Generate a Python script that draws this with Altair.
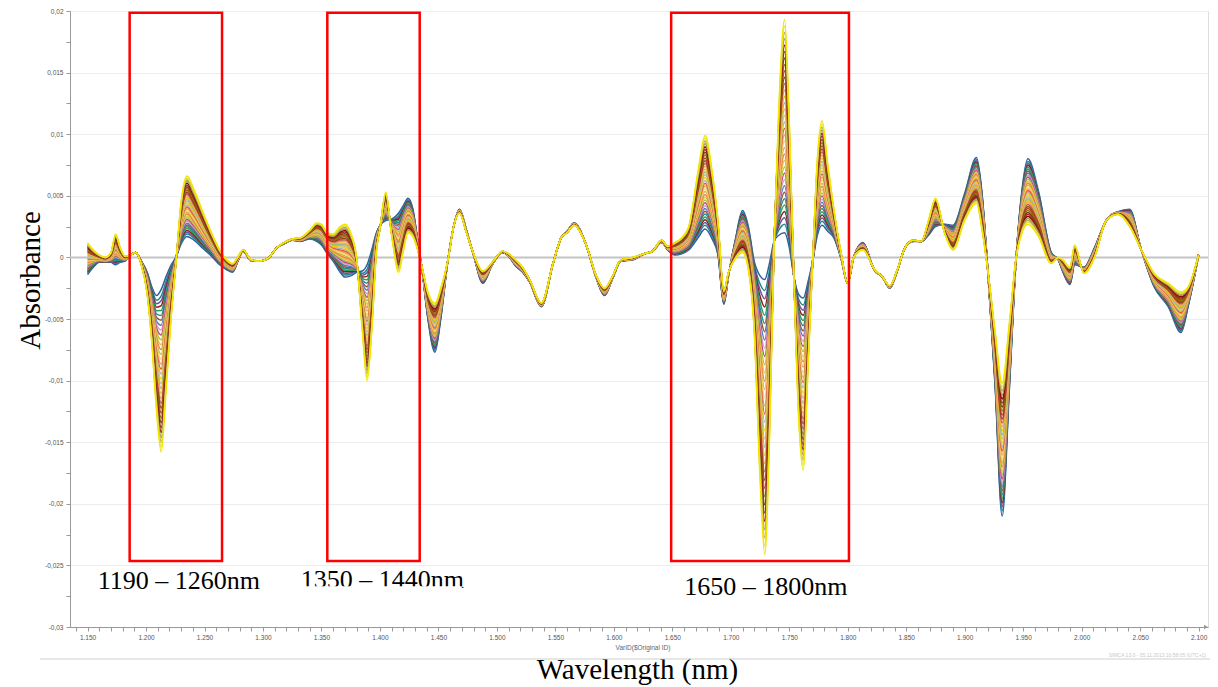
import altair as alt
import pandas as pd

# ---------------- data ----------------
wavelength = [
    1150, 1155, 1160, 1165, 1170, 1174, 1178, 1182, 1187, 1191,
    1196, 1201, 1205, 1209, 1213, 1217, 1221, 1226, 1230, 1235,
    1241, 1249, 1256, 1263, 1269, 1274, 1279, 1283, 1290, 1297,
    1304, 1312, 1318, 1325, 1332, 1340, 1346, 1350, 1355, 1360,
    1366, 1370, 1375, 1380, 1385, 1389, 1393, 1397, 1400, 1405,
    1410, 1416, 1420, 1424, 1428, 1432, 1436, 1441, 1447, 1452,
    1458, 1463, 1468, 1474, 1480, 1488, 1496, 1505, 1510, 1516,
    1522, 1528, 1538, 1548, 1555, 1560, 1566, 1576, 1585, 1592,
    1599, 1606, 1616, 1626, 1633, 1641, 1646, 1652, 1658, 1664,
    1672, 1678, 1684, 1689, 1694, 1698, 1704, 1710, 1715, 1720,
    1725, 1729, 1733, 1737, 1741, 1746, 1750, 1754, 1758, 1762,
    1766, 1770, 1774, 1778, 1783, 1788, 1794, 1800, 1805, 1813,
    1823, 1829, 1836, 1842, 1849, 1856, 1863, 1869, 1875, 1883,
    1890, 1900, 1910, 1915, 1919, 1926, 1932, 1938, 1944, 1949,
    1954, 1963, 1974, 1980, 1984, 1990, 1994, 2002, 2011, 2021,
    2031, 2041, 2051, 2062, 2074, 2085, 2091, 2100,
]

# spectrum at the "yellow" end of the bundle
abs_yellow = [
    0.0012, 0.0006, 0.0002, 0.0000, 0.0004, 0.0019, 0.0008, 0.0001, 0.0002, 0.0004,
    -0.0006, -0.0030, -0.0070, -0.0125, -0.0158, -0.0110, -0.0055, 0.0000, 0.0045, 0.0066,
    0.0055, 0.0036, 0.0020, 0.0006, -0.0002, -0.0005, 0.0001, 0.0006, -0.0002, -0.0003,
    -0.0001, 0.0008, 0.0012, 0.0015, 0.0016, 0.0022, 0.0028, 0.0027, 0.0020, 0.0019,
    0.0025, 0.0027, 0.0020, 0.0000, -0.0060, -0.0100, -0.0060, 0.0005, 0.0023, 0.0053,
    0.0018, -0.0012, 0.0005, 0.0020, 0.0017, 0.0007, -0.0008, -0.0028, -0.0037, -0.0025,
    -0.0003, 0.0025, 0.0036, 0.0020, 0.0003, -0.0011, -0.0004, 0.0005, 0.0003, -0.0002,
    -0.0008, -0.0018, -0.0037, -0.0005, 0.0016, 0.0020, 0.0026, 0.0011, -0.0015, -0.0025,
    -0.0015, -0.0002, 0.0000, 0.0003, 0.0005, 0.0014, 0.0009, 0.0012, 0.0016, 0.0025,
    0.0070, 0.0099, 0.0070, 0.0030, -0.0027, -0.0012, -0.0001, 0.0004, -0.0010, -0.0060,
    -0.0180, -0.0241, -0.0150, 0.0010, 0.0120, 0.0193, 0.0110, -0.0018, -0.0130, -0.0173,
    -0.0090, -0.0003, 0.0080, 0.0111, 0.0075, 0.0040, 0.0005, -0.0021, 0.0000, 0.0006,
    -0.0010, -0.0015, -0.0023, -0.0011, 0.0008, 0.0014, 0.0013, 0.0030, 0.0048, 0.0019,
    0.0006, 0.0030, 0.0044, 0.0021, -0.0005, -0.0060, -0.0102, -0.0055, 0.0000, 0.0020,
    0.0027, 0.0017, -0.0005, 0.0000, -0.0002, -0.0008, 0.0010, -0.0013, 0.0000, 0.0030,
    0.0035, 0.0025, 0.0006, -0.0013, -0.0021, -0.0028, -0.0024, 0.0002,
]

# spectrum at the "blue" end of the bundle
abs_blue = [
    -0.0014, -0.0008, -0.0004, -0.0004, -0.0004, -0.0006, -0.0004, -0.0003, 0.0002, 0.0004,
    -0.0003, -0.0012, -0.0024, -0.0031, -0.0026, -0.0016, -0.0007, 0.0001, 0.0011, 0.0017,
    0.0014, 0.0007, 0.0001, -0.0006, -0.0010, -0.0012, -0.0002, 0.0005, -0.0003, -0.0003,
    -0.0001, 0.0008, 0.0011, 0.0014, 0.0013, 0.0015, 0.0013, 0.0010, 0.0003, -0.0003,
    -0.0012, -0.0016, -0.0015, -0.0012, -0.0011, -0.0006, 0.0006, 0.0020, 0.0026, 0.0030,
    0.0031, 0.0036, 0.0042, 0.0048, 0.0040, 0.0016, -0.0010, -0.0050, -0.0077, -0.0050,
    -0.0003, 0.0025, 0.0039, 0.0022, 0.0002, -0.0021, -0.0006, 0.0004, 0.0001, -0.0007,
    -0.0012, -0.0020, -0.0040, -0.0005, 0.0016, 0.0021, 0.0028, 0.0011, -0.0017, -0.0031,
    -0.0017, -0.0003, -0.0002, 0.0003, 0.0005, 0.0012, 0.0006, 0.0002, 0.0003, 0.0006,
    0.0016, 0.0023, 0.0015, 0.0002, -0.0038, -0.0015, 0.0015, 0.0038, 0.0025, -0.0003,
    -0.0015, -0.0018, -0.0005, 0.0013, 0.0018, 0.0020, 0.0008, -0.0016, -0.0030, -0.0033,
    -0.0020, -0.0003, 0.0018, 0.0026, 0.0021, 0.0016, 0.0000, -0.0021, 0.0000, 0.0012,
    -0.0011, -0.0015, -0.0025, -0.0012, 0.0008, 0.0013, 0.0013, 0.0018, 0.0025, 0.0027,
    0.0026, 0.0052, 0.0081, 0.0050, 0.0000, -0.0105, -0.0210, -0.0110, 0.0000, 0.0055,
    0.0080, 0.0054, 0.0004, -0.0002, -0.0012, -0.0022, -0.0006, -0.0008, 0.0008, 0.0030,
    0.0037, 0.0039, 0.0006, -0.0024, -0.0040, -0.0061, -0.0040, 0.0002,
]

# relative position of each sample inside the bundle (0 = blue end, 1 = yellow end)
sample_position = [
    0.00, 0.04, 0.07, 0.10, 0.13, 0.16, 0.19, 0.22, 0.25, 0.28,
    0.31, 0.34, 0.37, 0.40, 0.43, 0.46, 0.49, 0.52, 0.55, 0.58,
    0.61, 0.64, 0.67, 0.70, 0.73, 0.76, 0.79, 0.82, 0.85, 0.88,
    0.91, 0.94, 0.97, 1.00,
]
sample_color = [
    "#2b5f9e", "#1f8a8a", "#6a51a3", "#8b1a1a", "#2e9e5b", "#23908f", "#a0522d", "#4a7fc1", "#d6a0c0", "#c8408c",
    "#9acd32", "#e8c547", "#f08040", "#c9b458", "#f0e060", "#ff9a5a", "#e05a2a", "#b0b0b0", "#f5d000", "#d2b48c",
    "#8fbc8f", "#e6c200", "#f4a460", "#cd5c5c", "#8b4513", "#c0392b", "#808000", "#7b3f00", "#a52a2a", "#8b0000",
    "#999966", "#b5a642", "#e8e04a", "#f2e600",
]

y_ticks = [-0.03, -0.0275, -0.025, -0.0225, -0.02, -0.0175, -0.015, -0.0125, -0.01, -0.0075,
           -0.005, -0.0025, 0.0, 0.0025, 0.005, 0.0075, 0.01, 0.0125, 0.015, 0.0175, 0.02]
x_ticks = list(range(1140, 2101, 10))

box_start = [1186, 1355, 1649]
box_end = [1265, 1434, 1801]
box_top = [0.01985, 0.01985, 0.01985]
box_bottom = [-0.02464, -0.02464, -0.02464]
box_label = ["1190 – 1260nm", "1350 – 1440nm", "1650 – 1800nm"]
label_x = [1228, 1402, 1730]
label_y = [-0.0269, -0.0268, -0.0274]

# ---------------- tables ----------------
rows = []
for i, (p, c) in enumerate(zip(sample_position, sample_color)):
    for wl, a, b in zip(wavelength, abs_yellow, abs_blue):
        rows.append({"sample": f"S{i:02d}", "wl": wl, "abs": b + p * (a - b), "ord": i})
spectra = pd.DataFrame(rows)
ids = [f"S{i:02d}" for i in range(len(sample_position))]

boxes = pd.DataFrame({"x1": box_start, "x2": box_end, "y1": box_bottom, "y2": box_top})
labels = pd.DataFrame({"x": label_x, "y": label_y, "t": box_label})
cover = pd.DataFrame({"x1": [1328], "x2": [1470], "y1": [-0.0267], "y2": [-0.0275]})

W, H = 1138, 616
xscale = alt.Scale(domain=[1135, 2108], nice=False, zero=False)
yscale = alt.Scale(domain=[-0.03, 0.02], nice=False, zero=False)

grid_test = "abs(round(datum.value*200) - datum.value*200) < 0.001"

x_axis = alt.Axis(
    values=x_ticks,
    labelExpr="datum.value % 50 == 0 ? replace(format(datum.value, ','), ',', '.') : ''",
    labelFontSize=6.5, labelColor="#555555", labelPadding=3, labelOverlap=False, labelFlush=False,
    labelBound=False,
    tickSize=4, tickColor="#999999", domainColor="#999999", grid=False,
    title="Wavelength (nm)", titleFont="Liberation Serif", titleFontSize=29, titleFontWeight="normal",
    titleColor="#000000", titleX=567, titleY=42, titleAlign="center", titleBaseline="middle",
)
y_axis = alt.Axis(
    values=y_ticks,
    labelExpr=f"{grid_test} ? replace(replace(format(datum.value, '~g'), '.', ','), '\u2212', '-') : ''",
    labelFontSize=6.5, labelColor="#555555", labelPadding=3, labelOverlap=False, labelFlush=False,
    tickSize=4, tickColor="#999999", domainColor="#999999",
    grid=True, gridColor="#ededed",
    gridOpacity={"condition": {"test": grid_test, "value": 1}, "value": 0},
    title="Absorbance", titleFont="Liberation Serif", titleFontSize=29, titleFontWeight="normal",
    titleColor="#000000", titleAngle=270, titleX=-40, titleY=269, titleAlign="center", titleBaseline="middle",
)

zero = alt.Chart(pd.DataFrame({"v": [0.0]})).mark_rule(color="#c4c4c4", strokeWidth=2).encode(
    y=alt.Y("v:Q", scale=yscale, axis=y_axis)
)

lines = alt.Chart(spectra).mark_line(strokeWidth=1.5, interpolate="monotone", clip=True).encode(
    x=alt.X("wl:Q", scale=xscale, axis=x_axis),
    y=alt.Y("abs:Q", scale=yscale, axis=y_axis),
    color=alt.Color("sample:N", scale=alt.Scale(domain=ids, range=sample_color), legend=None),
    order=alt.Order("ord:Q"),
    detail="sample:N",
)

rects = alt.Chart(boxes).mark_rect(fillOpacity=0, stroke="#ff0000", strokeWidth=2.5).encode(
    x=alt.X("x1:Q", scale=xscale, axis=x_axis), x2="x2:Q",
    y=alt.Y("y1:Q", scale=yscale, axis=y_axis), y2="y2:Q",
)

texts = alt.Chart(labels).mark_text(font="Liberation Serif", fontSize=26, color="#000000",
                                     align="center", baseline="alphabetic").encode(
    x=alt.X("x:Q", scale=xscale, axis=x_axis), y=alt.Y("y:Q", scale=yscale, axis=y_axis), text="t:N"
)

cover_rect = alt.Chart(cover).mark_rect(color="#ffffff").encode(
    x=alt.X("x1:Q", scale=xscale, axis=x_axis), x2="x2:Q",
    y=alt.Y("y1:Q", scale=yscale, axis=y_axis), y2="y2:Q",
)

varid = alt.Chart(pd.DataFrame({"t": ["VarID($Original ID)"]})).mark_text(
    fontSize=6.5, color="#666666", align="center", baseline="middle"
).encode(x=alt.value(573), y=alt.value(637), text="t:N")

stamp = alt.Chart(pd.DataFrame({"t": ["SIMCA 13.0 - 05.11.2013 10:58:05 (UTC+1)"]})).mark_text(
    fontSize=5, color="#c8c8c8", align="right", baseline="middle"
).encode(x=alt.value(1136), y=alt.value(644), text="t:N")

sep = alt.Chart(pd.DataFrame({"a": [0]})).mark_rule(color="#cfcfcf", strokeWidth=1).encode(
    x=alt.value(-30), x2=alt.value(1140), y=alt.value(648)
)

arrow = alt.Chart(pd.DataFrame({"a": [0]})).mark_point(
    shape="triangle-right", filled=True, size=22, color="#999999", opacity=1
).encode(x=alt.value(1136), y=alt.value(616))

chart = alt.layer(zero, lines, rects, texts, cover_rect, varid, stamp, sep, arrow).properties(
    width=W, height=H,
    autosize=alt.AutoSizeParams(type="none"),
    padding={"left": 62, "top": 3, "right": 2, "bottom": 60},
).configure_view(strokeWidth=0).configure(background="#ffffff")

chart.save("out.html", embed_options={"renderer": "svg", "actions": False})
